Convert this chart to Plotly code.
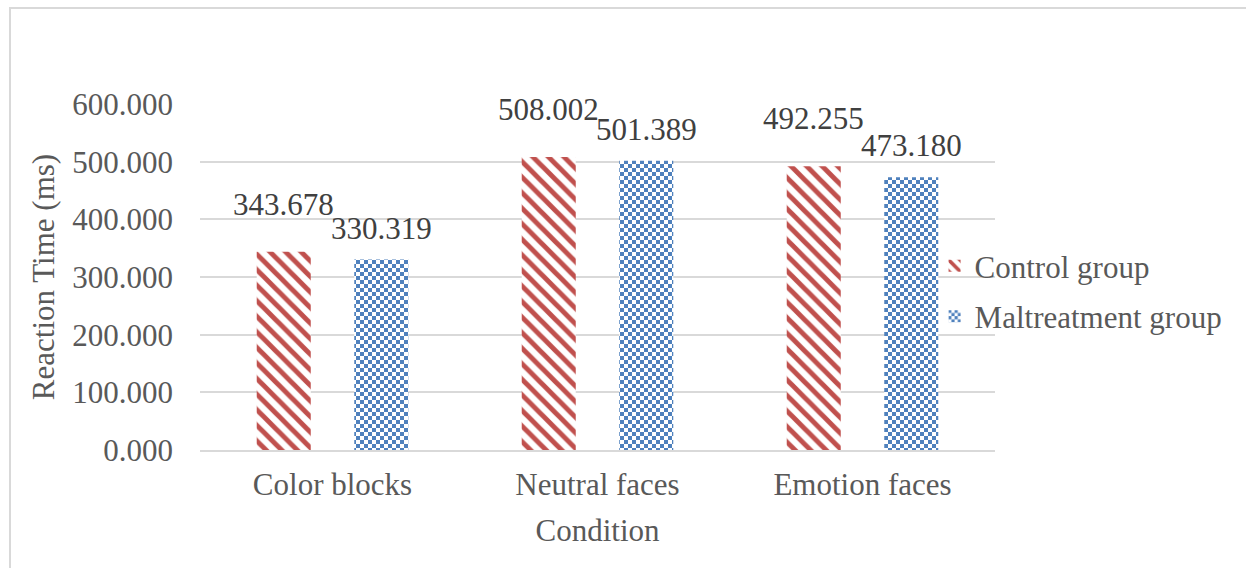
import plotly.graph_objects as go

# Mean reaction time per condition and group
conditions = ["Color blocks", "Neutral faces", "Emotion faces"]
control_rt = [343.678, 508.002, 492.255]
maltreatment_rt = [330.319, 501.389, 473.180]
y_ticks = [0, 100, 200, 300, 400, 500, 600]

FONT = "Liberation Serif, Times New Roman, serif"
TEXT = "#595959"
LABEL = "#404040"
RED = "#C0504D"
BLUE = "#4F81BD"
GRID = "#D9D9D9"

W, H = 1246, 568
MARGIN = dict(l=200, r=251, t=104, b=118)
BARGAP = 0.264

fig = go.Figure()
fig.add_trace(go.Bar(
    name="Control group",
    legendgroup="control",
    x=conditions,
    y=control_rt,
    marker=dict(
        color=RED,
        line=dict(width=0),
        pattern=dict(shape="\\", fgcolor=RED, bgcolor="white",
                     size=11, solidity=0.45, fillmode="replace"),
    ),
))
fig.add_trace(go.Bar(
    name="Maltreatment group",
    legendgroup="maltreatment",
    x=conditions,
    y=maltreatment_rt,
    marker=dict(
        color=BLUE,
        line=dict(width=0),
        pattern=dict(shape=".", fgcolor=BLUE, bgcolor="white",
                     size=8, solidity=0.5, fillmode="replace"),
    ),
))

# Value labels above each bar, shifted sideways to the bar's slot in its group
plot_w = W - MARGIN["l"] - MARGIN["r"]
slot = (1 - BARGAP) / 4 * plot_w / len(conditions)
annotations = []
for values, dx, dy in ((control_rt, -slot, 28), (maltreatment_rt, slot, 12)):
    for cat, v in zip(conditions, values):
        annotations.append(dict(
            x=cat, y=v, xref="x", yref="y",
            text=f"{v:.3f}", showarrow=False,
            xanchor="center", yanchor="bottom",
            xshift=dx, yshift=dy,
            font=dict(family=FONT, size=31, color=LABEL),
        ))

fig.update_layout(
    width=W,
    height=H,
    margin=MARGIN,
    paper_bgcolor="white",
    plot_bgcolor="white",
    font=dict(family=FONT, size=31, color=TEXT),
    barmode="group",
    bargap=BARGAP,
    bargroupgap=0.446,
    showlegend=True,
    legend=dict(
        x=0.924, xanchor="left",
        y=0.459, yanchor="middle",
        bgcolor="rgba(255,255,255,0)",
        font=dict(family=FONT, size=31, color=TEXT),
        itemsizing="constant",
        traceorder="grouped",
        tracegroupgap=7,
    ),
    xaxis=dict(
        title=dict(text="Condition", font=dict(family=FONT, size=31, color=TEXT), standoff=18),
        showline=True, linecolor=GRID, linewidth=2,
        showgrid=False, ticks="",
        ticklabelstandoff=6,
        tickfont=dict(family=FONT, size=31, color=TEXT),
    ),
    yaxis=dict(
        title=dict(text="Reaction Time (ms)", font=dict(family=FONT, size=31, color=TEXT), standoff=8),
        range=[0, 600],
        tickvals=y_ticks,
        tickformat=".3f",
        showgrid=True, gridcolor=GRID, gridwidth=2,
        zeroline=False, showline=False, ticks="",
        ticklabelstandoff=26,
        tickfont=dict(family=FONT, size=31, color=TEXT),
    ),
    annotations=annotations,
    shapes=[dict(
        type="rect", xref="paper", yref="paper",
        x0=-0.239, x1=1.33, y0=-0.36, y1=1.2775,
        line=dict(color=GRID, width=2), fillcolor="rgba(0,0,0,0)", layer="below",
    )],
)

# Turn the dotted fill tiles into a checkerboard
post = """
var gd = document.getElementById('{plot_id}');
gd.querySelectorAll('pattern').forEach(function(p){
  var c = p.querySelector('circle');
  if(!c) return;
  var col = c.getAttribute('fill') || c.style.fill;
  var s = 8;
  p.setAttribute('width', s); p.setAttribute('height', s);
  while(p.firstChild) p.removeChild(p.firstChild);
  var ns = 'http://www.w3.org/2000/svg';
  function r(x,y,w,h,f){var e=document.createElementNS(ns,'rect');
    e.setAttribute('x',x);e.setAttribute('y',y);e.setAttribute('width',w);
    e.setAttribute('height',h);e.setAttribute('fill',f);p.appendChild(e);}
  r(0,0,s,s,'white'); r(0,0,s/2,s/2,col); r(s/2,s/2,s/2,s/2,col);
});
"""
fig.write_html("out.html", post_script=post)
